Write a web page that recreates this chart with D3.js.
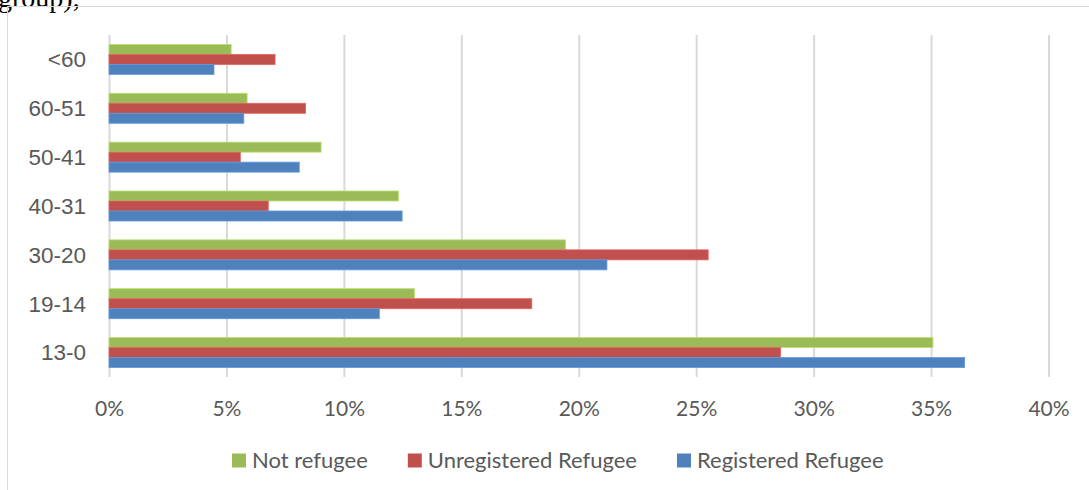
<!DOCTYPE html>
<html>
<head>
<meta charset="utf-8">
<script src="https://cdn.jsdelivr.net/npm/d3@7"></script>
<style>
  html, body { margin: 0; padding: 0; background: #fff; }
  svg { display: block; }
</style>
</head>
<body>
<svg id="chart" width="1089" height="490"></svg>
<script>
// ---- Data ----
const categories = ["<60", "60-51", "50-41", "40-31", "30-20", "19-14", "13-0"];
const seriesNames = ["Not refugee", "Unregistered Refugee", "Registered Refugee"];
const notRefugee = [0.052, 0.0588, 0.0903, 0.1232, 0.1943, 0.130, 0.3508];
const unregisteredRefugee = [0.0707, 0.0837, 0.0559, 0.0678, 0.2551, 0.180, 0.2859];
const registeredRefugee = [0.0447, 0.0574, 0.081, 0.1248, 0.212, 0.1151, 0.3643];
const tickValues = [0, 0.05, 0.10, 0.15, 0.20, 0.25, 0.30, 0.35, 0.40];
const colors = ["#9BBB59", "#C0504D", "#4F81BD"];

const seriesValues = [notRefugee, unregisteredRefugee, registeredRefugee];

const svg = d3.select("#chart");

// top cropped text from the surrounding document
svg.append("text")
  .attr("x", -2).attr("y", 7)
  .attr("font-family", "Liberation Serif, Times New Roman, serif")
  .attr("font-size", 28)
  .attr("fill", "#000")
  .text("group),");

// chart frame
svg.append("rect")
  .attr("x", 7.5).attr("y", 6.5)
  .attr("width", 1200).attr("height", 600)
  .attr("fill", "none")
  .attr("stroke", "#d9d9d9")
  .attr("stroke-width", 1);

const plotTop = 35, plotBottom = 377;
const x = d3.scaleLinear().domain([0, 0.40]).range([109, 1048.5]);
const y = d3.scaleBand().domain(categories).range([plotTop, plotBottom])
  .paddingInner(0.386).paddingOuter(0.193);
const ySub = d3.scaleBand().domain(seriesNames).range([0, y.bandwidth()]);

// gridlines
const grid = svg.append("g")
  .attr("transform", `translate(0,${plotBottom})`)
  .call(d3.axisBottom(x).tickValues(tickValues).tickSize(-(plotBottom - plotTop)).tickFormat(""));
grid.select(".domain").remove();
grid.selectAll(".tick line").attr("stroke", "#d9d9d9").attr("stroke-width", 2);

// bars
const groups = svg.append("g").selectAll("g")
  .data(categories)
  .join("g")
  .attr("transform", d => `translate(0,${y(d)})`);

groups.selectAll("rect")
  .data((c, i) => seriesNames.map((s, k) => ({ s, k, v: seriesValues[k][i] })))
  .join("rect")
  .attr("x", x(0))
  .attr("y", d => ySub(d.s))
  .attr("width", d => x(d.v) - x(0))
  .attr("height", ySub.bandwidth())
  .attr("fill", d => colors[d.k])
  .attr("stroke", d => d3.color(colors[d.k]).brighter(0.5))
  .attr("stroke-width", 0.8);

// x axis labels
const xAxis = svg.append("g")
  .attr("transform", `translate(0,${plotBottom})`)
  .call(d3.axisBottom(x).tickValues(tickValues).tickSize(0).tickPadding(0).tickFormat(d3.format(".0%")));
xAxis.select(".domain").remove();
xAxis.selectAll("text")
  .attr("y", 39).attr("dy", 0)
  .attr("font-family", "Lato, sans-serif")
  .attr("font-size", 21)
  .attr("fill", "#595959");

// y axis labels
const yAxis = svg.append("g")
  .attr("transform", `translate(86,0)`)
  .call(d3.axisLeft(y).tickSize(0).tickPadding(0));
yAxis.select(".domain").remove();
yAxis.selectAll("text")
  .attr("x", 0)
  .attr("dy", "0.35em")
  .attr("font-family", "Liberation Sans, Arial, sans-serif")
  .attr("font-size", 22.5)
  .attr("fill", "#595959");

// legend
const legend = svg.append("g").attr("transform", "translate(232,0)");
let lx = 0;
seriesNames.forEach((name, k) => {
  const g = legend.append("g").attr("transform", `translate(${lx},0)`);
  g.append("rect").attr("x", 0).attr("y", 453.5).attr("width", 14).attr("height", 14).attr("fill", colors[k]);
  const t = g.append("text")
    .attr("x", 20).attr("y", 467.5)
    .attr("font-family", "Lato, sans-serif")
    .attr("font-size", 22)
    .attr("fill", "#595959")
    .text(name);
  lx += 20 + t.node().getComputedTextLength() + 40;
});
</script>
</body>
</html>
